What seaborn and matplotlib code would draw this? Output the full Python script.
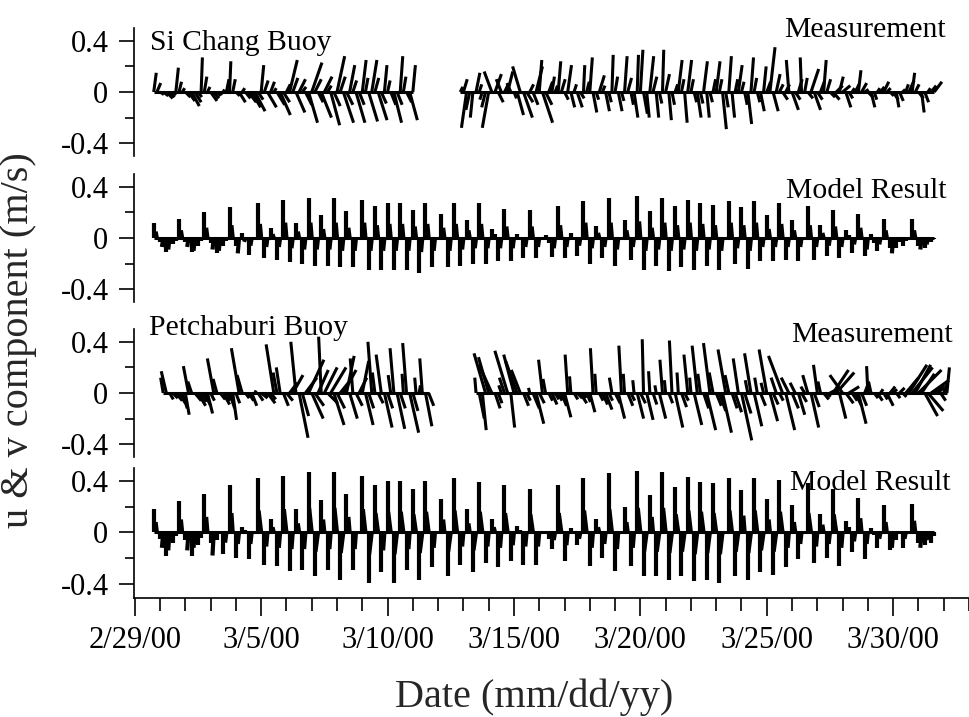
import numpy as np
import matplotlib
matplotlib.use("Agg")
import matplotlib.pyplot as plt
from matplotlib.collections import LineCollection
from matplotlib.ticker import FixedLocator, MultipleLocator
import seaborn as sns

sns.set_theme(style="ticks")
plt.rcParams["font.family"] = ["Liberation Serif", "DejaVu Serif"]
plt.rcParams["axes.unicode_minus"] = False

N = None
START = 0.75   # first record, days after 2/29/00 00:00
STEP = 0.125   # 3-hourly records

date_ticks = [0, 5, 10, 15, 20, 25, 30]
date_labels = ["2/29/00", "3/5/00", "3/10/00", "3/15/00", "3/20/00", "3/25/00", "3/30/00"]
v_ticks = [-0.4, 0, 0.4]
v_labels = ["-0.4", "0", "0.4"]

# ---- Si Chang Buoy, measurement (cm/s), rows of 3-hourly records
sichang_meas_v = [
    [15, 7, -2, -3, -5, -4, -2, 19], [8, 3, -4, -7, -11, -8, -4, 27],
    [12, 4, -7, -5, -3, -2, 2, 10], [24, 10, -3, -8, 3, -5, -8, -12],
    [-15, -6, 21, 9, -12, 8, 3, -10], [-18, -8, 6, 25, 11, -16, 10, 4],
    [-10, -24, 23, 10, -8, -20, 12, 5], [-26, -11, 28, 12, -24, -10, 21, 9],
    [-24, -10, 25, 11, -23, 25, 11, -22], [-9, 21, 9, -10, -24, -10, 28, 12],
    [-8, -22, 21, N, N, N, N, N], [N, N, N, N, N, N, N, N],
    [N, 4, 10, -28, -14, -20, 15, 6], [-6, -12, -28, 16, 14, -8, 10, 6],
    [16, 7, -5, -18, 20, -20, -8, 6], [-10, 20, 25, -24, -10, 8, 12, 5],
    [24, 10, -6, 21, -12, 6, -12, -5], [21, 8, 27, -16, -6, 13, 5, -15],
    [-8, 29, 12, -15, -7, 28, 11, -10], [-20, 29, 33, -17, -20, 28, 12, -20],
    [-9, 33, 14, -22, -10, 6, 25, 10], [-24, 25, 10, -8, -20, -9, 24, -20],
    [-8, 10, 24, 10, -29, -12, 28, -20], [10, 21, 8, -10, -25, 27, 11, -8],
    [-15, 20, 8, 35, -15, 14, 6, -6], [6, 25, -14, -6, 10, 27, 11, -5],
    [18, -14, -6, 8, 25, 10, -4, -6], [5, 12, 5, -12, -5, 3, 6, 17],
    [7, 2, -4, -12, -6, 3, 4, 8], [3, -3, -6, -12, -7, 2, 6, 9],
    [15, 6, -5, -16, -8, 3, 5, 8],
]
sichang_meas_u = [
    [2, 3, 3, 4, 5, 4, 3, 2], [2, 2, 4, 5, 6, 5, 3, 1],
    [2, 2, 5, 4, 3, 2, 1, 2], [1, 2, 3, 5, 2, 4, 6, 7],
    [8, 4, 2, 3, 7, 3, 2, 6], [8, 5, 3, 6, 4, 7, 5, 3],
    [5, 7, 8, 5, 4, 8, 6, 3], [7, 5, 6, 4, 8, 5, 4, 3],
    [7, 4, 3, 2, 7, 4, 3, 7], [4, 2, 2, 4, 6, 4, 2, 2],
    [4, 6, 2, N, N, N, N, N], [N, N, N, N, N, N, N, N],
    [N, 2, 3, -4, -3, -2, 3, 2], [-2, -3, -5, -6, 5, 4, -4, 3],
    [4, -3, 2, 5, -6, 7, 5, 3], [4, 5, 2, 8, 5, 3, 2, 2],
    [2, 3, 3, 3, 3, 2, 4, 3], [1, 2, 2, 3, 2, 4, 2, 3],
    [2, 1, 2, 3, 2, 2, 3, 2], [3, 1, 2, 3, 2, 3, 3, 2],
    [2, 1, 3, 2, 2, 2, 3, 2], [2, 3, 2, 2, 3, 2, 3, 2],
    [2, 2, 3, 2, 3, 2, 2, 2], [2, 3, 2, 2, 3, 2, 2, 2],
    [3, 2, 3, 4, 4, 3, 3, 4], [3, -2, 5, 4, 3, -1, 2, 4],
    [6, 5, 4, 3, 2, 3, 4, 5], [5, 3, 6, 4, 3, 2, 3, 2],
    [4, 3, 4, 3, 2, 2, 3, 4], [3, 3, 4, 2, 3, 2, 2, 4],
    [2, 3, 4, 2, 3, 2, 4, 6],
]

# ---- Si Chang Buoy, model result (cm/s)
sichang_model_v = [
    [12, 5, -3, -7, -11, -9, -5, -2], [15, 6, -3, -7, -11, -10, -6, -2],
    [20, 8, -4, -9, -12, -10, -6, -2], [24, 10, -6, -12, 4, -3, -13, -6, 0],
    [27, 11, -16, -7, 8, 3, -17, -7], [30, 12, -19, -8, 12, 5, -20, -9],
    [31, 12, -22, -9, 18, 7, -22, -9], [31, 12, -23, -10, 21, 8, -23, -10, 0],
    [30, 12, -25, -10, 25, 10, -25, -10], [27, 11, -25, -10, 27, 11, -25, -10],
    [22, 9, -27, -11, 27, 11, -23, -10, 0], [19, 8, -23, -10, 27, 11, -22, -9],
    [14, 6, -20, -8, 27, 11, -20, -8], [7, 3, -18, -8, 23, 9, -18, -8],
    [3, 1, -16, -7, 22, 9, -16, -7, 0], [2, -4, -15, -8, 25, 10, -16, -7],
    [4, 1, -14, -6, 29, 12, -20, -8], [9, 4, -16, -7, 31, 12, -22, -9, 0],
    [14, 6, -17, -7, 33, 13, -25, -10], [21, 8, -22, -9, 31, 12, -26, -10],
    [25, 10, -23, -9, 30, 12, -25, -10], [27, 11, -22, -9, 26, 10, -25, -10, 0],
    [29, 12, -20, -8, 24, 10, -24, -10], [29, 12, -18, -7, 18, 7, -18, -7],
    [27, 11, -17, -7, 14, 6, -18, -7, 0], [25, 10, -17, -7, 10, 4, -14, -6],
    [22, 9, -16, -7, 6, 2, -12, -5], [19, 8, -14, -9, 3, -4, -10, -5],
    [15, 6, -8, -12, -8, -3, -6, -2, 0], [15, 6, -6, -9, -8, -5, -3, -1],
]
sichang_model_u = [
    [0, -1, 0, -1, 0, -1, 0, 0], [0, -1, 0, -1, 0, -1, 0, 0],
    [0, -1, 0, -1, 0, -1, 0, 0], [0, -1, 0, -1, 0, -1, 0, -1, 0],
    [0, -1, 0, -1, 0, -1, 0, -1], [0, -1, 0, -1, 0, -1, 0, -1],
    [0, -1, 0, -1, 0, -1, 0, -1], [0, -1, 0, -1, 0, -1, 0, -1, 0],
    [0, -1, 0, -1, 0, -1, 0, -1], [0, -1, 0, -1, 0, -1, 0, -1],
    [0, -1, 0, -1, 0, -1, 0, -1, 0], [0, -1, 0, -1, 0, -1, 0, -1],
    [0, -1, 0, -1, 0, -1, 0, -1], [0, 0, 0, -1, 0, -1, 0, -1],
    [0, 0, 0, -1, 0, -1, 0, -1, 0], [0, 0, 0, -1, 0, -1, 0, -1],
    [0, 0, 0, -1, 0, -1, 0, -1], [0, -1, 0, -1, 0, -1, 0, -1, 0],
    [0, -1, 0, -1, 0, -1, 0, -1], [0, -1, 0, -1, 0, -1, 0, -1],
    [0, -1, 0, -1, 0, -1, 0, -1], [0, -1, 0, -1, 0, -1, 0, -1, 0],
    [0, -1, 0, -1, 0, -1, 0, -1], [0, -1, 0, -1, 0, -1, 0, -1],
    [0, -1, 0, -1, 0, -1, 0, -1, 0], [0, -1, 0, -1, 0, -1, 0, -1],
    [0, -1, 0, -1, 0, 0, 0, -1], [0, -1, 0, -1, 0, 0, 0, -1],
    [0, -1, 0, -1, 0, 0, 0, 0, 0], [0, -1, 0, -1, 0, -1, 0, 0],
]

# ---- Petchaburi Buoy, measurement (cm/s)
petch_meas_v = [
    [N, N, N, 12, 17, -5, -4, -6], [-8, -12, -17, 21, 9, -6, -10, -7],
    [-10, -16, -6, 27, 11, -5, -9, -6], [-12, -21, -8, 35, 14, -4, -6, -10],
    [2, -6, -4, -3, -8, -5, 38, 16], [20, -10, -6, 8, 14, 40, -35, -18],
    [12, 26, -20, -10, 18, 44, 20, -8], [20, -25, -12, 10, 18, 29, -20, 27],
    [-10, 12, 25, -25, -12, 40, 16, -8], [30, -27, -12, 14, 35, -28, -12, 15],
    [39, -31, -14, 12, 6, 27, -26, -10], [N, N, N, N, N, N, N, N],
    [N, N, N, N, N, N, 12, -20], [-29, 31, 28, 22, -12, -8, 6, 12],
    [33, -27, 30, 25, 18, -10, -6, 4], [-12, -24, -8, 26, 11, -6, -9, -5],
    [-6, -10, -19, 30, 13, -5, -4, -8], [-4, -7, -15, 35, 15, -6, -9, -13],
    [-6, 12, -8, -20, 37, 15, -10, -6], [10, -20, -8, 42, -21, 17, -9, 6],
    [-20, 26, 10, -8, 41, -27, 16, -11], [-6, 30, 12, -25, 37, 15, -12, -29],
    [39, 16, -10, -14, -31, 34, 14, -12], [-15, 27, -37, -16, 10, 31, -26, 12],
    [-10, 8, 34, -22, -9, 12, -6, 29], [-29, 12, -12, 8, -17, -7, 5, 14],
    [-27, -11, 22, 9, -5, -3, 4, 18], [16, -20, 14, -8, 5, -6, -10, -24],
    [-10, 8, 21, 9, -4, -6, 3, -5], [-10, 5, 3, -4, 4, -3, 12, 22],
    [20, 22, 18, 15, -18, -14, 10, 6], [4, -6, 8, 20, N, N, N, N],
]
petch_meas_u = [
    [N, N, N, -2, -4, 3, 4, 5], [5, 4, 3, -4, -3, 5, 6, 4],
    [5, 4, 3, -5, -3, 4, 5, 3], [4, 3, 3, -6, -4, 3, 4, 4],
    [1, 4, 5, 3, 6, 4, -6, -3], [-3, 4, 5, 6, 8, -4, 7, 5],
    [9, 12, 9, 7, 8, -2, 10, 8], [12, 8, 6, 8, 10, 6, 6, -2],
    [5, 6, 5, 6, 4, -3, -2, 4], [-4, 6, 4, -2, -3, 6, 4, -1],
    [-3, 7, 4, -1, 1, -2, 5, 4], [N, N, N, N, N, N, N, N],
    [N, N, N, N, N, N, -1, 4], [3, -9, -8, -10, 4, 3, -2, -4],
    [-10, 3, -8, -9, -7, 4, 3, -1], [5, 6, 4, -3, -2, 3, 4, 3],
    [3, 4, 5, -2, -1, 3, 4, 5], [2, 3, 4, -2, -1, 3, 4, 5],
    [3, -2, 4, 5, -2, -1, 4, 3], [-1, 5, 4, -1, 5, -1, 3, -1],
    [5, -2, -1, 3, -2, 6, -1, 4], [3, -3, -1, 6, -4, -2, 4, 7],
    [-5, -3, 4, 5, 7, -6, -3, 4], [5, -4, 8, 5, -2, -5, 6, -2],
    [4, -2, -6, 6, 4, -4, 3, -11], [7, -6, 5, -4, 5, 4, -3, -4],
    [6, 4, -3, -2, 4, 3, 8, 12], [14, 5, -10, 6, 8, 4, 5, 6],
    [4, 3, -1, -2, 3, 4, 2, 3], [5, 4, 3, 3, 4, 3, 10, 14],
    [16, 12, 18, 10, 10, 12, 14, 8], [5, 4, 3, 2, N, N, N, N],
]

# ---- Petchaburi Buoy, model result (cm/s)
petch_model_v = [
    [18, 8, -5, -12, -18, -14, -8, -3], [24, 10, -6, -14, -18, -12, -10, -4],
    [30, 12, -8, -18, -6, 0, -17, -8], [37, 15, -20, -9, 4, 2, -21, -9, 0],
    [42, 17, -25, -11, 10, 4, -26, -12], [44, 18, -30, -13, 18, 7, -29, -13],
    [47, 19, -34, -15, 25, 10, -29, -13], [47, 19, -37, -16, 30, 12, -29, -13, 0],
    [44, 18, -39, -17, 37, 15, -31, -14], [40, 16, -39, -17, 40, 16, -29, -13],
    [34, 14, -37, -16, 40, 16, -27, -12, 0], [26, 10, -34, -15, 42, 17, -25, -11],
    [18, 7, -31, -14, 39, 16, -24, -11], [10, 4, -27, -12, 37, 15, -22, -10],
    [5, 2, -25, -11, 34, 14, -25, -11, 0], [0, -5, -13, -6, 37, 15, -22, -10],
    [3, 1, -10, -5, 42, 17, -26, -12], [10, 4, -20, -9, 46, 18, -30, -13, 0],
    [20, 8, -26, -12, 48, 19, -34, -15], [29, 12, -34, -15, 47, 19, -37, -16],
    [35, 14, -34, -15, 43, 17, -38, -17], [39, 16, -37, -16, 38, 15, -39, -17, 0],
    [42, 17, -34, -15, 33, 13, -37, -16], [42, 17, -31, -14, 26, 10, -33, -15],
    [41, 16, -27, -12, 21, 8, -21, -9, 0], [38, 15, -24, -11, 14, 6, -20, -9],
    [34, 14, -26, -12, 9, 4, -15, -7], [27, 11, -21, -9, 3, -2, -12, -5],
    [21, 8, -14, -12, -6, 0, -12, -5, 0], [22, 9, -8, -12, -10, -6, -8, -3],
]
petch_model_u = [
    [0, -1, 0, -1, 0, -1, 0, 0], [0, -1, 0, -1, 0, -1, 0, 0],
    [0, -1, 0, -1, 0, 0, 0, -1], [0, -1, 0, -1, 0, 0, 0, -1, 0],
    [0, -2, 0, -1, 0, -1, 0, -1], [0, -2, 0, -1, 0, -1, 0, -1],
    [0, -2, 0, -2, 0, -1, 0, -1], [0, -2, 0, -2, 0, -1, 0, -1, 0],
    [0, -2, 0, -2, 0, -2, 0, -1], [0, -2, 0, -2, 0, -2, 0, -1],
    [0, -2, 0, -2, 0, -2, 0, -1, 0], [0, -1, 0, -2, 0, -2, 0, -1],
    [0, -1, 0, -2, 0, -2, 0, -1], [0, -1, 0, -1, 0, -2, 0, -1],
    [0, 0, 0, -1, 0, -2, 0, -1, 0], [0, 0, 0, -1, 0, -2, 0, -1],
    [0, 0, 0, -1, 0, -2, 0, -1], [0, -1, 0, -1, 0, -2, 0, -1, 0],
    [0, -1, 0, -1, 0, -2, 0, -2], [0, -1, 0, -2, 0, -2, 0, -2],
    [0, -2, 0, -2, 0, -2, 0, -2], [0, -2, 0, -2, 0, -2, 0, -2, 0],
    [0, -2, 0, -2, 0, -1, 0, -2], [0, -2, 0, -2, 0, -1, 0, -2],
    [0, -2, 0, -1, 0, -1, 0, -1, 0], [0, -2, 0, -1, 0, -1, 0, -1],
    [0, -2, 0, -1, 0, 0, 0, -1], [0, -1, 0, -1, 0, 0, 0, -1],
    [0, -1, 0, -1, 0, 0, 0, -1, 0], [0, -1, 0, -1, 0, -1, 0, 0],
]

W, H = 969, 717
fig = plt.figure(figsize=(W / 100, H / 100), dpi=100)
LEFT = 133.5
XLIM = (-0.05, 33.0)


def flat(rows):
    return np.array([x for r in rows for x in r], dtype=float)


def add_panel(top, bottom, ylim):
    ax = fig.add_axes([LEFT / W, 1 - bottom / H, (W - LEFT) / W, (bottom - top) / H])
    ax.set_xlim(*XLIM)
    ax.set_ylim(*ylim)
    return ax


def sticks(ax, v_rows, u_rows, lw):
    v = flat(v_rows) / 100
    u = flat(u_rows) / 100
    t = START + STEP * np.arange(len(v))
    # days per (m/s) so that u is drawn at the same scale as v
    bb = ax.get_position()
    px_day = bb.width * W / (XLIM[1] - XLIM[0])
    lo, hi = ax.get_ylim()
    px_ms = bb.height * H / (hi - lo)
    k = px_ms / px_day
    ok = ~np.isnan(v)
    segs = [[(ti, 0.0), (ti + ui * k, vi)] for ti, ui, vi in zip(t[ok], u[ok], v[ok])]
    ax.add_collection(LineCollection(segs, colors="black", linewidths=lw, capstyle="butt"))
    base = np.where(ok, 0.0, np.nan)
    ax.plot(t, base, color="black", lw=2.2, solid_capstyle="butt")


def style(ax, bottom_axis):
    sns.despine(ax=ax, top=True, right=True, bottom=not bottom_axis)
    for s in ["left", "bottom"]:
        ax.spines[s].set_color("black")
        ax.spines[s].set_linewidth(1.2)
    ax.yaxis.set_major_locator(FixedLocator(v_ticks))
    ax.set_yticklabels(v_labels)
    ax.yaxis.set_minor_locator(FixedLocator([-0.2, 0.2]))
    ax.tick_params(axis="y", which="major", direction="out", length=11, width=1.2,
                   pad=7, labelsize=22, color="black", labelcolor="black")
    ax.tick_params(axis="y", which="minor", direction="out", length=6.5, width=1.2,
                   color="black")
    if bottom_axis:
        ax.xaxis.set_major_locator(FixedLocator(date_ticks))
        ax.set_xticklabels(date_labels)
        ax.xaxis.set_minor_locator(MultipleLocator(1))
        ax.tick_params(axis="x", which="major", direction="out", length=13, width=1.2,
                       pad=7, labelsize=22, color="black", labelcolor="black")
        ax.tick_params(axis="x", which="minor", direction="out", length=9, width=1.2,
                       color="black")
    else:
        ax.set_xticks([])
        ax.tick_params(axis="x", which="both", length=0)


panels = [
    (28, 156, (-0.5, 0.5), sichang_meas_v, sichang_meas_u, 2.2, False),
    (174, 302, (-0.5, 0.5), sichang_model_v, sichang_model_u, 3.0, False),
    (329, 457, (-0.5, 0.5), petch_meas_v, petch_meas_u, 2.2, False),
    (468, 598, (-0.51, 0.5), petch_model_v, petch_model_u, 3.0, True),
]
for top, bottom, ylim, vr, ur, lw, last in panels:
    ax = add_panel(top, bottom, ylim)
    sticks(ax, vr, ur, lw)
    style(ax, last)
    ax.set_facecolor("white")


def ftext(x, y, s, ha, size=21.3, **kw):
    fig.text(x / W, 1 - y / H, s, ha=ha, va="baseline", fontsize=size, color="black", **kw)


ftext(150, 50, "Si Chang Buoy", "left")
ftext(946, 37, "Measurement", "right")
ftext(947, 198, "Model Result", "right")
ftext(149, 335, "Petchaburi Buoy", "left")
ftext(953, 342, "Measurement", "right")
ftext(950, 490, "Model Result", "right")

fig.text(19 / W, 1 - 340 / H, "u & v component (m/s)", rotation=90, ha="center",
         va="center", fontsize=29)
fig.text(534 / W, 1 - 697 / H, "Date (mm/dd/yy)", ha="center", va="center", fontsize=29)

fig.savefig("out.png", dpi=100, facecolor="white")
